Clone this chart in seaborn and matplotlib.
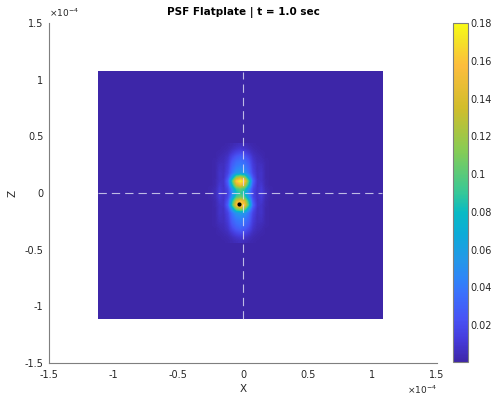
import numpy as np
import matplotlib
matplotlib.use("Agg")
import matplotlib.pyplot as plt
from matplotlib.colors import LinearSegmentedColormap
import seaborn as sns

# ---------------- data ----------------
title = "PSF Flatplate | t = 1.0 sec"
axis_ticks = [-1.5, -1, -0.5, 0, 0.5, 1, 1.5]            # in units of 1e-4
axis_tick_labels = ["-1.5", "-1", "-0.5", "0", "0.5", "1", "1.5"]
cbar_ticks = [0.02, 0.04, 0.06, 0.08, 0.10, 0.12, 0.14, 0.16, 0.18]
cbar_tick_labels = ["0.02", "0.04", "0.06", "0.08", "0.1", "0.12", "0.14", "0.16", "0.18"]
value_min, value_max = 0.0005, 0.18

image_x_range = [-1.125, 1.075]   # x extent of the PSF image (1e-4)
image_z_range = [-1.112, 1.068]   # z extent of the PSF image (1e-4)
background_level = 0.0008

psf_center_x = -0.025                                  # 1e-4
psf_col_offsets = [-0.256, -0.224, -0.192, -0.16, -0.128, -0.096, -0.064, -0.032, 0.0,
                   0.032, 0.064, 0.096, 0.128, 0.16, 0.192, 0.224, 0.256]
psf_row_z = [0.42, 0.385, 0.35, 0.315, 0.28, 0.245, 0.21, 0.175, 0.14, 0.105, 0.07, 0.035, 0.0,
             -0.035, -0.07, -0.105, -0.14, -0.175, -0.21, -0.245, -0.28, -0.315, -0.35, -0.385, -0.42]
# PSF intensity (x 1/1000), rows top->bottom, columns left->right
psf_values_milli = [
    [1, 1, 1, 1, 1, 2, 3, 5, 6, 5, 3, 2, 1, 1, 1, 1, 1],
    [1, 1, 1, 1, 2, 3, 6, 9, 11, 9, 6, 3, 2, 1, 1, 1, 1],
    [1, 1, 1, 2, 3, 5, 11, 17, 20, 17, 11, 5, 3, 2, 1, 1, 1],
    [1, 1, 1, 3, 4, 8, 18, 26, 30, 26, 18, 8, 4, 3, 1, 1, 1],
    [1, 1, 2, 4, 5, 10, 24, 33, 36, 33, 24, 10, 5, 4, 2, 1, 1],
    [1, 1, 2, 6, 6, 12, 29, 38, 41, 38, 29, 12, 6, 6, 2, 1, 1],
    [1, 1, 2, 7, 6, 14, 33, 44, 47, 44, 33, 14, 6, 7, 2, 1, 1],
    [1, 1, 2, 8, 7, 16, 38, 53, 58, 53, 38, 16, 7, 8, 2, 1, 1],
    [1, 1, 2, 8, 7, 22, 58, 110, 128, 110, 58, 22, 7, 8, 2, 1, 1],
    [1, 1, 3, 8, 9, 30, 96, 163, 180, 163, 96, 30, 9, 8, 3, 1, 1],
    [1, 1, 3, 10, 8, 25, 78, 134, 152, 134, 78, 25, 8, 10, 3, 1, 1],
    [1, 2, 4, 12, 8, 18, 52, 90, 102, 90, 52, 18, 8, 12, 4, 2, 1],
    [1, 2, 5, 13, 8, 16, 44, 78, 90, 78, 44, 16, 8, 13, 5, 2, 1],
    [1, 2, 4, 12, 8, 18, 54, 95, 107, 95, 54, 18, 8, 12, 4, 2, 1],
    [1, 1, 3, 10, 8, 25, 80, 140, 157, 140, 80, 25, 8, 10, 3, 1, 1],
    [1, 1, 3, 8, 9, 30, 94, 158, 176, 158, 94, 30, 9, 8, 3, 1, 1],
    [1, 1, 2, 8, 7, 22, 58, 108, 124, 108, 58, 22, 7, 8, 2, 1, 1],
    [1, 1, 2, 8, 7, 16, 38, 53, 58, 53, 38, 16, 7, 8, 2, 1, 1],
    [1, 1, 2, 7, 6, 14, 33, 44, 47, 44, 33, 14, 6, 7, 2, 1, 1],
    [1, 1, 2, 6, 6, 12, 29, 38, 41, 38, 29, 12, 6, 6, 2, 1, 1],
    [1, 1, 2, 4, 5, 10, 24, 33, 36, 33, 24, 10, 5, 4, 2, 1, 1],
    [1, 1, 1, 3, 4, 8, 18, 26, 30, 26, 18, 8, 4, 3, 1, 1, 1],
    [1, 1, 1, 2, 3, 5, 11, 17, 20, 17, 11, 5, 3, 2, 1, 1, 1],
    [1, 1, 1, 1, 2, 3, 6, 9, 11, 9, 6, 3, 2, 1, 1, 1, 1],
    [1, 1, 1, 1, 1, 2, 3, 5, 6, 5, 3, 2, 1, 1, 1, 1, 1],
]
marker_x, marker_z = -0.03, -0.10

# parula-like colormap anchors
parula_pos = [0.0, 0.06, 0.125, 0.2, 0.25, 0.3, 0.375, 0.44, 0.5, 0.625, 0.75, 0.875, 0.95, 1.0]
parula_rgb = [(0.2422, 0.1504, 0.6603), (0.2700, 0.2250, 0.8500), (0.2810, 0.3228, 0.9579),
              (0.2300, 0.4400, 0.9900), (0.1786, 0.5289, 0.9682), (0.1400, 0.5950, 0.9100),
              (0.0500, 0.6700, 0.8500), (0.0300, 0.7300, 0.7700), (0.2161, 0.7843, 0.5923),
              (0.5300, 0.7990, 0.3300), (0.8200, 0.7400, 0.1700), (0.9900, 0.7400, 0.2400),
              (0.9600, 0.8900, 0.1500), (0.9769, 0.9839, 0.0805)]

# ---------------- style ----------------
sns.set_theme(style="white")
plt.rcParams["font.family"] = ["DejaVu Sans"]
plt.rcParams["axes.unicode_minus"] = False
txt_col = "#262626"
axis_col = "#7f7f7f"

parula = LinearSegmentedColormap.from_list("parula", list(zip(parula_pos, parula_rgb)), N=256)

fig = plt.figure(figsize=(4.94, 4.01), dpi=100)
fig.patch.set_facecolor("white")
W, H = 494, 401
ax = fig.add_axes([49 / W, 1 - 363 / H, 388 / W, 340 / H])
cax = fig.add_axes([453 / W, 1 - 362 / H, 15 / W, 339 / H])

# background field
bg = np.full((2, 2), background_level)
ax.imshow(bg, cmap=parula, vmin=value_min, vmax=value_max, origin="lower",
          extent=[image_x_range[0], image_x_range[1], image_z_range[0], image_z_range[1]],
          interpolation="nearest", aspect="auto", zorder=1)

# PSF patch
psf = np.array(psf_values_milli) / 1000.0
dx = psf_col_offsets[1] - psf_col_offsets[0]
dz = psf_row_z[0] - psf_row_z[1]
left = psf_center_x + psf_col_offsets[0] - dx / 2
right = psf_center_x + psf_col_offsets[-1] + dx / 2
top = psf_row_z[0] + dz / 2
bottom = psf_row_z[-1] - dz / 2
im = ax.imshow(psf, cmap=parula, vmin=value_min, vmax=value_max, origin="upper",
               extent=[left, right, bottom, top], interpolation="bilinear",
               aspect="auto", zorder=2)

# dashed cross-hair
dash_col = (0.88, 0.88, 0.96)
ax.plot([0, 0], image_z_range, color=dash_col, lw=0.8, dashes=(7.5, 4.5), alpha=0.8, zorder=3)
ax.plot(image_x_range, [0, 0], color=dash_col, lw=0.8, dashes=(7.5, 4.5), alpha=0.8, zorder=3)
ax.plot([marker_x], [marker_z], marker="o", ms=2.0, color="black", mec="black", zorder=4)

ax.set_xlim(-1.5, 1.5)
ax.set_ylim(-1.5, 1.5)
ax.set_xticks(axis_ticks)
ax.set_xticklabels(axis_tick_labels)
ax.set_yticks(axis_ticks)
ax.set_yticklabels(axis_tick_labels)
ax.tick_params(direction="in", length=3.5, width=0.6, colors=axis_col, labelcolor=txt_col,
               labelsize=7)
ax.tick_params(axis="x", pad=5)
ax.tick_params(axis="y", pad=4)
for s in ["top", "right"]:
    ax.spines[s].set_visible(False)
for s in ["left", "bottom"]:
    ax.spines[s].set_color(axis_col)
    ax.spines[s].set_linewidth(0.8)
ax.set_facecolor("white")

ax.set_xlabel("X", fontsize=7.5, color=txt_col, labelpad=3)
ax.set_ylabel("Z", fontsize=7.5, color=txt_col, labelpad=5)
ax.set_title(title, fontsize=7.5, fontweight="bold", color="black", pad=6)

fig.text(49 / W, 1 - 17 / H, r"$\times10^{-4}$", fontsize=6.5, color=txt_col, ha="left", va="baseline")
fig.text(437 / W, 1 - 394 / H, r"$\times10^{-4}$", fontsize=6.5, color=txt_col, ha="right", va="baseline")

cb = fig.colorbar(im, cax=cax)
cb.set_ticks(cbar_ticks)
cb.set_ticklabels(cbar_tick_labels)
cb.outline.set_edgecolor(axis_col)
cb.outline.set_linewidth(0.8)
cax.tick_params(direction="in", length=3, width=0.6, colors=axis_col, labelcolor=txt_col,
                labelsize=7, pad=2)

fig.savefig("out.png", dpi=100)
